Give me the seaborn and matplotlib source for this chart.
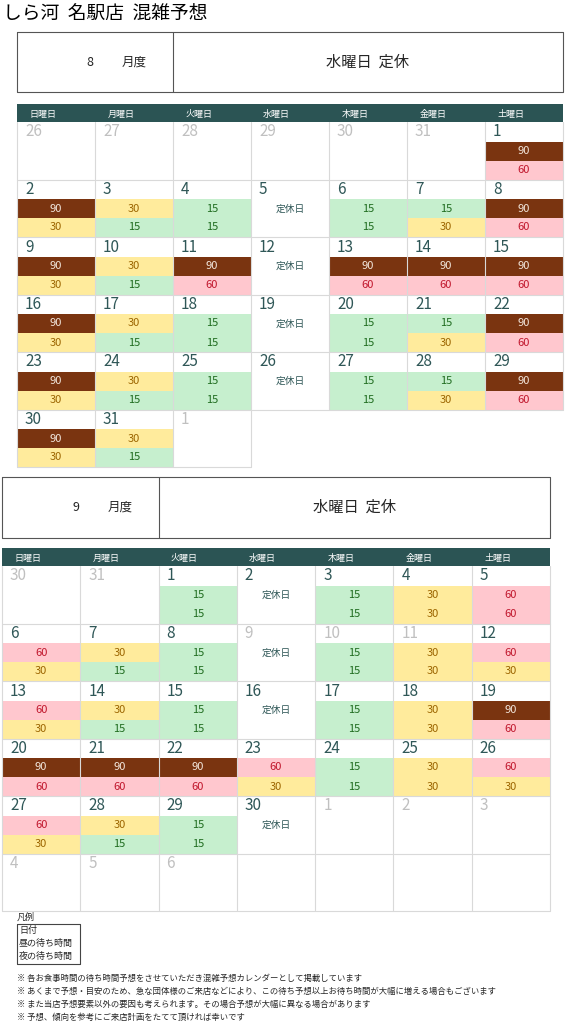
import matplotlib
matplotlib.use("Agg")
import matplotlib.pyplot as plt
import seaborn as sns

sns.set_theme(style="white")
plt.rcParams['font.family'] = ['Noto Sans CJK JP', 'DejaVu Sans']

TITLE = "しら河  名駅店  混雑予想"
WEEKDAYS = ["日曜日", "月曜日", "火曜日", "水曜日", "木曜日", "金曜日", "土曜日"]
CLOSED_LABEL = "定休日"

# August
aug_prev = [26, 27, 28, 29, 30, 31]
aug_lunch = [90, 90, 30, 15, None, 15, 15, 90, 90, 30, 90, None, 90, 90, 90,
             90, 30, 15, None, 15, 15, 90, 90, 30, 15, None, 15, 15, 90, 90, 30]
aug_dinner = [60, 30, 15, 15, None, 15, 30, 60, 30, 15, 60, None, 60, 60, 60,
              30, 15, 15, None, 15, 30, 60, 30, 15, 15, None, 15, 30, 60, 30, 15]
aug_next = [1]
aug_gray = []

# September
sep_prev = [30, 31]
sep_lunch = [15, None, 15, 30, 60, 60, 30, 15, None, 15, 30, 60, 60, 30, 15, None,
             15, 30, 90, 90, 90, 90, 60, 15, 30, 60, 60, 30, 15, None]
sep_dinner = [15, None, 15, 30, 60, 30, 15, 15, None, 15, 30, 30, 30, 15, 15, None,
              15, 30, 60, 60, 60, 60, 30, 15, 30, 30, 30, 15, 15, None]
sep_next = [1, 2, 3, 4, 5, 6]
sep_gray = [9, 10, 11]

LEGEND = ["日付", "昼の待ち時間", "夜の待ち時間"]
NOTES = ["※ 各お食事時間の待ち時間予想をさせていただき混雑予想カレンダーとして掲載しています",
         "※ あくまで予想・目安のため、急な団体様のご来店などにより、この待ち予想以上お待ち時間が大幅に増える場合もございます",
         "※ また当店予想要素以外の要因も考えられます。その場合予想が大幅に異なる場合があります",
         "※ 予想、傾向を参考にご来店計画をたてて頂ければ幸いです"]

BG = {90: "#7a3410", 60: "#ffc7ce", 30: "#ffeb9c", 15: "#c6efce"}
FG = {90: "#f2e6dc", 60: "#c0162c", 30: "#9c6500", 15: "#1e6b1e"}
DATE_C = "#2f5757"
GRAY_C = "#c0c0c0"
HEAD_C = "#2b5454"
GRID_C = "#d9d9d9"

fig = plt.figure(figsize=(5.67, 10.24), dpi=100)
ax = fig.add_axes([0, 0, 1, 1])
ax.set_xlim(0, 567)
ax.set_ylim(1024, 0)
ax.axis("off")

ax.text(3, 14, TITLE, fontsize=13.5, va="center", ha="left", color="black")


def month(x0, x1, box_top, box_bot, divx, month_no, head_top, prev, lunch, dinner, nxt, gray, last_cols):
    ax.plot([x0, x1, x1, x0, x0], [box_top, box_top, box_bot, box_bot, box_top], color="#555555", lw=0.8)
    ax.plot([divx, divx], [box_top, box_bot], color="#555555", lw=0.8)
    cy = (box_top + box_bot) / 2
    ax.text(x0 + (divx - x0) * 0.47, cy, str(month_no), fontsize=9, ha="center", va="center")
    ax.text(x0 + (divx - x0) * 0.75, cy, "月度", fontsize=9, ha="center", va="center")
    ax.text((divx + x1) / 2, cy, "水曜日  定休", fontsize=11, ha="center", va="center")
    w = (x1 - x0) / 7
    hh = 18
    ax.bar(x0, hh, width=x1 - x0, bottom=head_top, align="edge", color=HEAD_C, lw=0)
    for i, d in enumerate(WEEKDAYS):
        ax.text(x0 + i * w + w * 0.33, head_top + hh / 2 + 1, d, fontsize=6.5, color="white", ha="center", va="center")
    top = head_top + hh
    rh = 57.5
    cells = [(d, True, None, None) for d in prev]
    for i, (l, dn) in enumerate(zip(lunch, dinner)):
        cells.append((i + 1, (i + 1) in gray, l, dn))
    cells += [(d, True, None, None) for d in nxt]
    nrows = 6
    for k, (d, g, l, dn) in enumerate(cells):
        r, c = divmod(k, 7)
        cx = x0 + c * w
        cyt = top + r * rh
        ax.text(cx + 8, cyt + 10, str(d), fontsize=11, color=GRAY_C if g else DATE_C, ha="left", va="center")
        if l is not None:
            ax.bar(cx, 19, width=w, bottom=cyt + 19.5, align="edge", color=BG[l], lw=0)
            ax.text(cx + w / 2, cyt + 29, str(l), fontsize=8, color=FG[l], ha="center", va="center")
        if dn is not None:
            ax.bar(cx, 19, width=w, bottom=cyt + 38.5, align="edge", color=BG[dn], lw=0)
            ax.text(cx + w / 2, cyt + 48, str(dn), fontsize=8, color=FG[dn], ha="center", va="center")
        if l is None and dn is None and c == 3 and (not g or d in gray):
            ax.text(cx + w / 2, cyt + 29, CLOSED_LABEL, fontsize=7, color=DATE_C, ha="center", va="center")
    for r in range(nrows):
        yt, yb = top + r * rh, top + (r + 1) * rh
        ncols = 7 if r < nrows - 1 else last_cols
        right = x0 + ncols * w if r == nrows - 1 else x1
        for c in range(ncols + 1):
            xx = x0 + c * w
            ax.plot([xx, xx], [yt, yb], color=GRID_C, lw=0.8)
        ax.plot([x0, right], [yb, yb], color=GRID_C, lw=0.8)


month(17, 563, 32, 92, 173, 8, 104, aug_prev, aug_lunch, aug_dinner, aug_next, aug_gray, 3)
month(2, 550, 477, 538, 159, 9, 548, sep_prev, sep_lunch, sep_dinner, sep_next, sep_gray, 7)

ax.text(17, 917, "凡例", fontsize=6.5, ha="left", va="center")
ax.plot([17, 80, 80, 17, 17], [924, 924, 964, 964, 924], color="#444444", lw=0.8)
for i, t in enumerate(LEGEND):
    ax.text(19, 930 + i * 13, t, fontsize=6.5, ha="left", va="center")
for i, t in enumerate(NOTES):
    ax.text(17, 978 + i * 13.3, t, fontsize=6, ha="left", va="center")

fig.savefig("out.png", dpi=100)
